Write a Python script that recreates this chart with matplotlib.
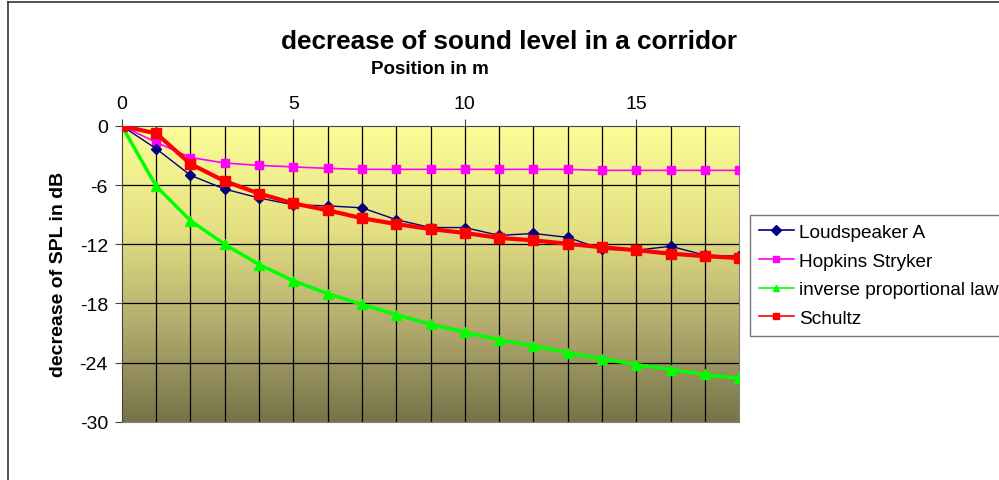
import numpy as np
import matplotlib
matplotlib.use('Agg')
import matplotlib.pyplot as plt
from matplotlib.colors import LinearSegmentedColormap
from matplotlib.lines import Line2D

plt.rcParams['font.family'] = ['Liberation Sans', 'DejaVu Sans']

# Datos
position = list(range(19))
loudspeaker_a = [0, -2.3, -5.0, -6.4, -7.3, -8.0, -8.1, -8.3, -9.5, -10.3, -10.3,
                 -11.1, -10.9, -11.3, -12.5, -12.6, -12.2, -13.1, -13.2]
hopkins_stryker = [0, -1.65, -3.2, -3.75, -4.0, -4.15, -4.3, -4.4, -4.4, -4.4, -4.4,
                   -4.4, -4.4, -4.4, -4.5, -4.5, -4.5, -4.5, -4.5]
inverse_law = [0, -6.1, -9.6, -12.0, -14.05, -15.7, -17.0, -18.1, -19.15, -20.1, -20.9,
               -21.7, -22.3, -23.0, -23.6, -24.2, -24.7, -25.2, -25.6]
schultz = [0, -0.75, -3.85, -5.6, -6.85, -7.85, -8.55, -9.35, -9.95, -10.45, -10.85,
           -11.35, -11.6, -11.95, -12.3, -12.6, -12.95, -13.2, -13.4]

x_ticks = [0, 5, 10, 15]
y_ticks = [0, -6, -12, -18, -24, -30]

fig = plt.figure(figsize=(9.99, 4.81), dpi=100)
ax = fig.add_axes([0.122, 0.121, 0.618, 0.615])

# Fondo degradado
cmap = LinearSegmentedColormap.from_list('bg', ['#FCFC98', '#E6E284', '#B4AD6E', '#77724A'])
grad = np.linspace(0, 1, 256).reshape(-1, 1)
ax.imshow(grad, cmap=cmap, aspect='auto', extent=[0, 18, -30, 0], origin='upper', zorder=0)

ax.set_xlim(0, 18)
ax.set_ylim(-30, 0)

for xv in range(1, 18):
    ax.axvline(xv, color='black', lw=0.9, zorder=1)
for yv in y_ticks[1:-1]:
    ax.axhline(yv, color='black', lw=0.9, zorder=1)

ax.plot(position, loudspeaker_a, color='#000080', lw=1.0, marker='D', ms=5, zorder=4,
        label='Loudspeaker A')
ax.plot(position, hopkins_stryker, color='#FF00FF', lw=1.2, marker='s', ms=6, zorder=3,
        label='Hopkins Stryker')
ax.plot(position, inverse_law, color='#00FF00', lw=2.5, marker='^', ms=7, zorder=3,
        label='inverse proportional law')
ax.plot(position, schultz, color='#FF0000', lw=3.0, marker='s', ms=7, zorder=5,
        label='Schultz')

ax.xaxis.tick_top()
ax.set_xticks(x_ticks)
ax.set_yticks(y_ticks)
ax.set_yticklabels([str(v) for v in y_ticks])
ax.tick_params(axis='both', labelsize=14, direction='out', length=5, color='#444444')
ax.tick_params(axis='x', pad=5)
ax.tick_params(axis='y', pad=5)
for s in ax.spines.values():
    s.set_color('#808080')
ax.spines['top'].set_color('#444444')
ax.spines['left'].set_color('#444444')

ax.set_ylabel('decrease of SPL in dB', fontsize=14, fontweight='bold', labelpad=9)

fig.text(0.51, 0.913, 'decrease of sound level in a corridor', ha='center', va='center',
         fontsize=18.8, fontweight='bold')
fig.text(0.43, 0.856, 'Position in m', ha='center', va='center', fontsize=13.5,
         fontweight='bold')

leg = ax.legend(loc='upper left', bbox_to_anchor=(0.7507, 0.551), bbox_transform=fig.transFigure,
                fontsize=13.7, frameon=True, fancybox=False, edgecolor='#555555',
                borderpad=0.45, labelspacing=0.6, handlelength=1.85, handletextpad=0.28,
                borderaxespad=0)
leg.get_frame().set_linewidth(1.0)
for h in leg.legend_handles:
    h.set_markersize(5)
    h.set_linewidth(1.2)

# Marco de la figura
fig.add_artist(Line2D([0.008, 0.008], [0, 0.994], transform=fig.transFigure, color='#333333', lw=1.2))
fig.add_artist(Line2D([0.008, 1.0], [0.994, 0.994], transform=fig.transFigure, color='#333333', lw=1.2))

fig.savefig('out.png', dpi=100)
